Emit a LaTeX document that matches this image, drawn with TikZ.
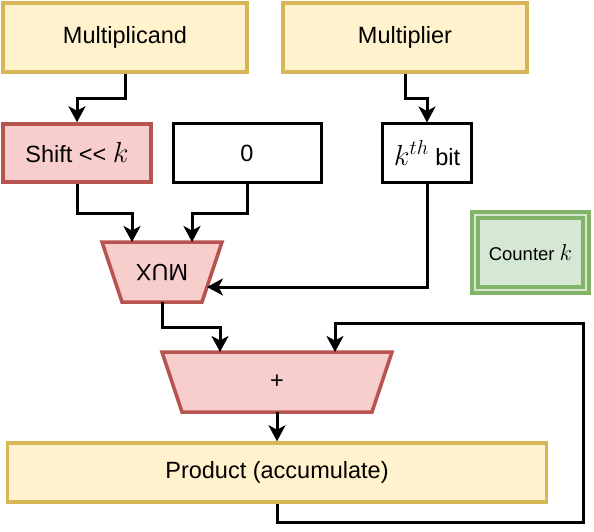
\RequirePackage{fix-cm}
\documentclass[tikz,border=0pt]{standalone}
\usepackage{fontspec}
\setmainfont{Liberation Sans}
\usetikzlibrary{arrows.meta}
\definecolor{yfill}{HTML}{FFF2CC}
\definecolor{ydraw}{HTML}{D6B656}
\definecolor{rfill}{HTML}{F8CECC}
\definecolor{rdraw}{HTML}{B85450}
\definecolor{gfill}{HTML}{D5E8D4}
\definecolor{gdraw}{HTML}{82B366}
\newcommand{\bigmath}[2]{{\fontsize{#1}{#1}\selectfont$#2$}}
\begin{document}
\begin{tikzpicture}[x=1pt,y=-1pt,
  txt/.style={font=\fontsize{23.5}{28}\selectfont, inner sep=0pt},
  ybox/.style={txt, draw=ydraw, fill=yfill, line width=3.5pt},
  rbox/.style={txt, draw=rdraw, fill=rfill, line width=3.5pt},
  wbox/.style={txt, draw=black, fill=white, line width=3pt},
  rshape/.style={draw=rdraw, fill=rfill, line width=3.5pt, line join=miter},
  conn/.style={line width=3pt, -{Stealth[length=16pt,width=17pt,inset=4.5pt]}},
]
\useasboundingbox (0,0) rectangle (594,532);

% top row
\node[ybox, minimum width=244pt, minimum height=69pt] (mcand) at (125,37.5) {Multiplicand};
\node[ybox, minimum width=244pt, minimum height=69pt] (mplier) at (405,37.5) {Multiplier};

% second row
\node[rbox, minimum width=148pt, minimum height=58pt] (shift) at (77,153) {Shift <{}< \bigmath{29}{k}};
\node[wbox, minimum width=148pt, minimum height=58pt] (zero) at (247,153) {0};
\node[wbox, minimum width=89pt, minimum height=58pt] (kbit) at (427,153) {\bigmath{29}{k^{th}} bit};

% counter
\node[txt, font=\fontsize{18.5}{22}\selectfont, draw=gdraw, fill=gfill, line width=3.3pt,
      double=gfill, double distance=2.6pt, minimum width=111pt, minimum height=75pt] (cnt) at (530.5,252.5) {Counter \bigmath{23}{k}};

% MUX trapezoid (wider on top)
\path[rshape] (102,242) -- (222,242) -- (202,302) -- (122,302) -- cycle;
\node[txt, rotate=180, minimum width=120pt, minimum height=60pt] (mux) at (162,272) {MUX};
\coordinate (muxA) at (132,242);
\coordinate (muxB) at (192,242);
\coordinate (muxR) at (207,287);

% adder trapezoid
\path[rshape] (162,352) -- (392,352) -- (372,412) -- (182,412) -- cycle;
\node[txt, minimum width=230pt, minimum height=60pt] (plus) at (277,382) {+};
\coordinate (plusA) at (220,352);
\coordinate (plusB) at (335,352);

% product
\node[ybox, minimum width=539pt, minimum height=59pt] (prod) at (277,472.5) {Product (accumulate)};

% connectors
\draw[conn] (mcand.south) -- ++(0,25) -| (shift.north);
\draw[conn] (mplier.south) -- ++(0,25) -| (kbit.north);
\draw[conn] (shift.south) -- ++(0,30) -| (muxA);
\draw[conn] (zero.south) -- ++(0,30) -| (muxB);
\draw[conn] (kbit.south) |- (muxR);
\draw[conn] (mux.north) -- ++(0,25) -| (plusA);
\draw[conn] (plus.south) -- (prod.north);
\draw[conn] (prod.south) -- ++(0,19) -| ++(306,-199) -| (plusB);
\end{tikzpicture}
\end{document}
